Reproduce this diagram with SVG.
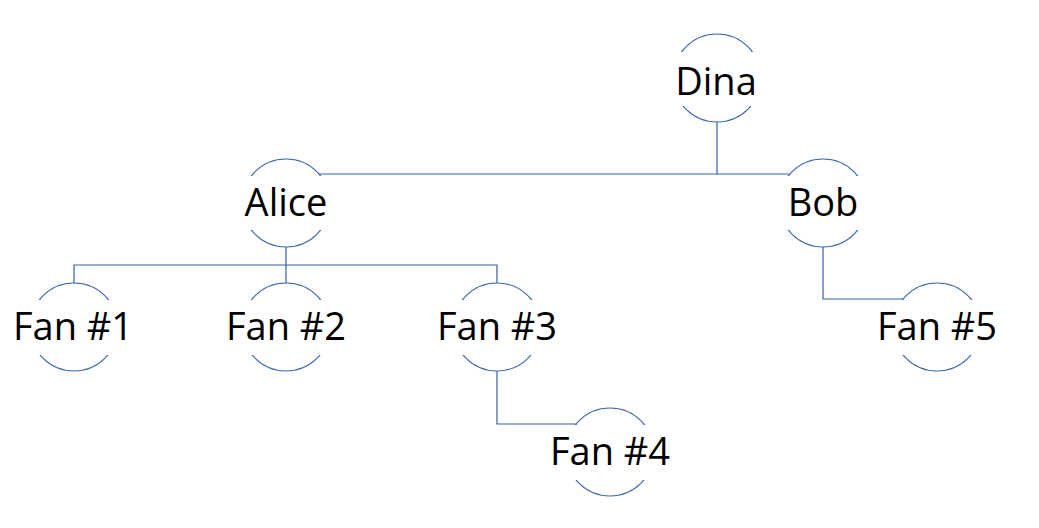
<svg xmlns="http://www.w3.org/2000/svg" width="1039" height="528" viewBox="0 0 1039 528">
<style>
.c{fill:none;stroke:#3D66B0;stroke-width:1.1}
.e{fill:none;stroke:#3560AA;stroke-width:1.2}
.b{fill:#fff;stroke:none}
.t{font-family:"Open Sans","Noto Sans",sans-serif;font-size:38px;fill:#000;text-anchor:middle}
</style>
<rect width="1039" height="528" fill="#fff"/>
<g id="connectors">
<polyline class="e" points="717,122 717,174 319,174"/>
<polyline class="e" points="717,174 789,174"/>
<polyline class="e" points="286,247 286,265 74,265 74,283"/>
<polyline class="e" points="286,265 497,265 497,283"/>
<line class="e" x1="286" y1="265" x2="286" y2="283"/>
<polyline class="e" points="497,371 497,424 577,424"/>
<polyline class="e" points="823,247 823,299 903,299"/>
</g>
<g id="dina"><circle class="c" cx="717" cy="78" r="44"/><rect class="b" x="660" y="52" width="114" height="54"/><text class="t" x="716" y="95">Dina</text></g>
<g id="alice"><circle class="c" cx="286" cy="203" r="44"/><rect class="b" x="229" y="176" width="114" height="54"/><text class="t" x="286" y="216">Alice</text></g>
<g id="bob"><circle class="c" cx="823" cy="203" r="44"/><rect class="b" x="766" y="176" width="114" height="54"/><text class="t" x="823" y="216">Bob</text></g>
<g id="fan1"><circle class="c" cx="74" cy="327" r="44"/><rect class="b" x="10" y="300" width="128" height="55"/><text class="t" x="73" y="340">Fan #1</text></g>
<g id="fan2"><circle class="c" cx="286" cy="327" r="44"/><rect class="b" x="222" y="300" width="128" height="55"/><text class="t" x="286" y="340">Fan #2</text></g>
<g id="fan3"><circle class="c" cx="497" cy="327" r="44"/><rect class="b" x="433" y="300" width="128" height="55"/><text class="t" x="497" y="340">Fan #3</text></g>
<g id="fan4"><circle class="c" cx="610" cy="452" r="44"/><rect class="b" x="546" y="425" width="128" height="55"/><text class="t" x="610" y="465">Fan #4</text></g>
<g id="fan5"><circle class="c" cx="937" cy="327" r="44"/><rect class="b" x="873" y="300" width="128" height="55"/><text class="t" x="937" y="340">Fan #5</text></g>
</svg>
